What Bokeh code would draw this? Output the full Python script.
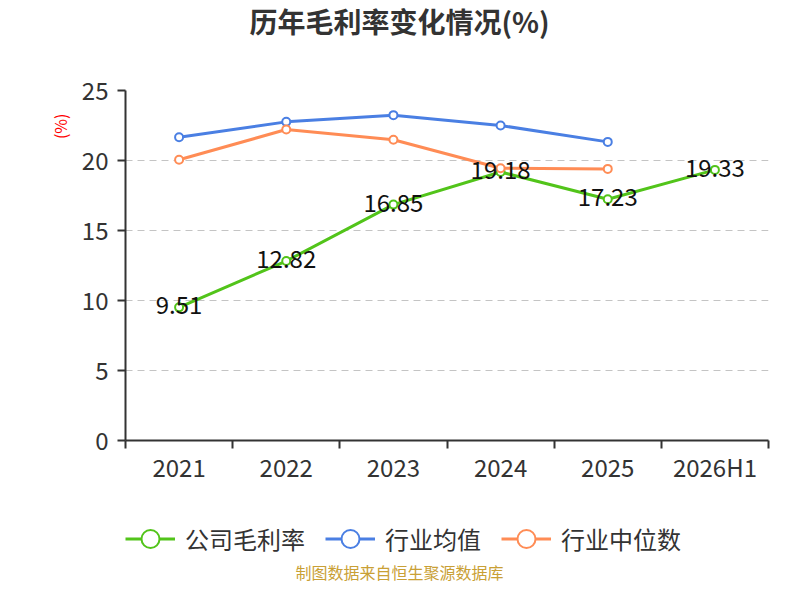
from bokeh.plotting import figure
from bokeh.layouts import column
from bokeh.models import (Range1d, FixedTicker, Legend, LegendItem, ColumnDataSource,
                          Title, Label)
from bokeh.core.properties import value
from bokeh.embed import file_html
from bokeh.resources import INLINE

# ---- data ----
years = ["2021", "2022", "2023", "2024", "2025", "2026H1"]
company = [9.51, 12.82, 16.85, 19.18, 17.23, 19.33]
ind_mean = [21.66, 22.76, 23.24, 22.50, 21.33]
ind_median = [20.05, 22.21, 21.48, 19.45, 19.40]
y_ticks = [0, 5, 10, 15, 20, 25]
series_names = ["公司毛利率", "行业均值", "行业中位数"]
title_text = "历年毛利率变化情况(%)"
unit_text = "(%)"
footer_text = "制图数据来自恒生聚源数据库"

FONT = "Noto Sans CJK SC"
GREEN = "#52C41A"
BLUE = "#4A7FE3"
ORANGE = "#FF8C55"
TXT = "#333333"
colors = [GREEN, BLUE, ORANGE]

W = 784
FRAME_LEFT = 125          # the column aligns every plot's frame to this edge
CENTER = 399 - FRAME_LEFT  # canvas centre, in frame pixels
xpos = [i + 0.5 for i in range(len(years))]
n = len(years)


def blank_fig(h):
    f = figure(width=W, height=h, output_backend="svg", toolbar_location=None,
               x_axis_type=None, y_axis_type=None,
               x_range=Range1d(0, 1), y_range=Range1d(0, 1),
               min_border_left=0, min_border_right=0, min_border_top=0,
               min_border_bottom=0)
    f.outline_line_color = None
    f.xgrid.visible = False
    f.ygrid.visible = False
    return f


# ---------- title strip ----------
pt = blank_fig(60)
pt.add_layout(Label(x=CENTER, y=40, x_units="screen", y_units="screen", text=title_text,
                    text_align="center", text_baseline="middle", text_font=FONT,
                    text_font_size="28px", text_font_style="bold", text_color=TXT))

# ---------- main chart ----------
p = figure(width=W, height=430, output_backend="svg", toolbar_location=None,
           x_range=Range1d(0, n), y_range=Range1d(y_ticks[0], y_ticks[-1]),
           min_border_left=FRAME_LEFT, min_border_right=16, min_border_top=30,
           min_border_bottom=50)
p.outline_line_color = None

p.xaxis.ticker = FixedTicker(ticks=xpos, minor_ticks=list(range(n + 1)))
p.xaxis.major_label_overrides = {x: y for x, y in zip(xpos, years)}
p.xaxis.major_tick_out = 0
p.xaxis.major_tick_in = 0
p.xaxis.minor_tick_out = 8
p.xaxis.minor_tick_in = 0
p.xaxis.minor_tick_line_color = TXT
p.xaxis.minor_tick_line_width = 2
p.xaxis.major_label_standoff = 0

p.yaxis.ticker = FixedTicker(ticks=y_ticks)
p.yaxis.major_tick_out = 8
p.yaxis.major_tick_in = 0
p.yaxis.minor_tick_out = 0
p.yaxis.minor_tick_in = 0
p.yaxis.major_label_standoff = 9

for ax in (p.xaxis, p.yaxis):
    ax.axis_line_color = TXT
    ax.axis_line_width = 2
    ax.major_tick_line_color = TXT
    ax.major_tick_line_width = 2
    ax.major_label_text_font = FONT
    ax.major_label_text_font_size = "24px"
    ax.major_label_text_color = TXT

p.xgrid.grid_line_color = None
p.ygrid.ticker = FixedTicker(ticks=y_ticks[1:])
p.ygrid.grid_line_color = "#c4c4c4"
p.ygrid.grid_line_width = 1.2
p.ygrid.grid_line_dash = "7 5"

src_c = ColumnDataSource(dict(x=xpos, y=company, t=[f"{v:.2f}" for v in company]))
src_m = ColumnDataSource(dict(x=xpos[:len(ind_mean)], y=ind_mean))
src_d = ColumnDataSource(dict(x=xpos[:len(ind_median)], y=ind_median))
sources = (src_c, src_m, src_d)

for src, col in zip(sources, colors):
    p.line("x", "y", source=src, line_color=col, line_width=3)
    p.scatter("x", "y", source=src, marker="circle", size=8,
              fill_color="white", line_color=col, line_width=2)

p.text("x", "y", text="t", source=src_c, text_align="center", text_baseline="middle",
       y_offset=-2, text_font=value(FONT), text_font_size="24px", text_color="#111111")

# y unit label near the top of the value axis
p.add_layout(Title(text=unit_text, align="right", offset=23, standoff=14,
                   text_font=FONT, text_font_size="16px", text_font_style="normal",
                   text_color="#ff0000"), "left")

# ---------- legend + source strip ----------
pb = blank_fig(94)
items = []
for name, src, col in zip(series_names, sources, colors):
    # same series, but outside this strip's ranges: only the legend swatch shows
    lr = pb.line("x", "y", source=src, line_color=col, line_width=3)
    sr = pb.scatter("x", "y", source=src, marker="circle", size=8,
                    fill_color="white", line_color=col, line_width=2)
    items.append(LegendItem(label=name, renderers=[lr, sr]))

legend = Legend(items=items, location=(0, 23.5), orientation="horizontal",
                glyph_width=50, glyph_height=45, label_standoff=10, spacing=20,
                padding=0, margin=0, border_line_alpha=0, background_fill_alpha=0,
                label_text_font=FONT, label_text_font_size="24px",
                label_text_color=TXT)
pb.add_layout(legend)
pb.add_layout(Label(x=CENTER, y=13, x_units="screen", y_units="screen",
                    text=footer_text, text_align="center", text_baseline="middle",
                    text_font=FONT, text_font_size="16px", text_color="#C9A035"))

layout = column(pt, p, pb, spacing=0)
open("out.html", "w").write(file_html(layout, INLINE))
